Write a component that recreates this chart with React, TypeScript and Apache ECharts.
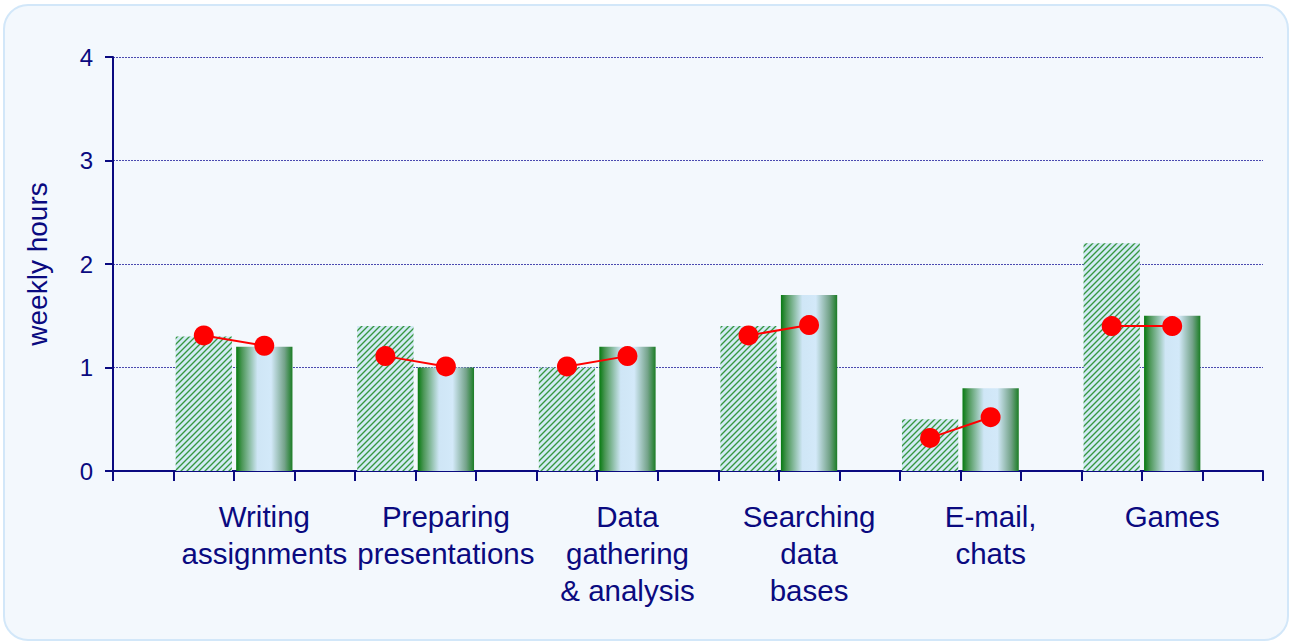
import React, { useEffect, useRef } from "react";
import * as echarts from "echarts";

// Activity categories (one group of two bars + a pair of red markers each)
const categories = [
  "Writing\nassignments",
  "Preparing\npresentations",
  "Data\ngathering\n& analysis",
  "Searching\ndata\nbases",
  "E-mail,\nchats",
  "Games",
];

// Weekly hours, hatched bars (first of each pair)
const hatchedHours = [1.3, 1.4, 1.0, 1.4, 0.5, 2.2];
// Weekly hours, shaded cylinder bars (second of each pair)
const shadedHours = [1.2, 1.0, 1.2, 1.7, 0.8, 1.5];
// Red marker pairs
const markerFirst = [1.31, 1.11, 1.01, 1.31, 0.32, 1.4];
const markerSecond = [1.21, 1.01, 1.11, 1.41, 0.52, 1.4];

const yTicks = [0, 1, 2, 3, 4];

const NAVY = "#0a0a80";
const FONT = "'Liberation Sans', Arial, Helvetica, sans-serif";

// The category axis has 3 slots per group plus a leading empty slot:
// [empty] [bar A] [bar B] [empty] [bar A] [bar B] [empty] ...
const SLOT_COUNT = categories.length * 3 + 1;

function slotted(first: number[], second: number[]): (number | null)[] {
  const out: (number | null)[] = new Array(SLOT_COUNT).fill(null);
  for (let g = 0; g < categories.length; g++) {
    if (first.length) out[g * 3 + 1] = first[g];
    if (second.length) out[g * 3 + 2] = second[g];
  }
  return out;
}

function makeHatchTile(): HTMLCanvasElement {
  const size = 6;
  const c = document.createElement("canvas");
  c.width = size;
  c.height = size;
  const ctx = c.getContext("2d")!;
  const img = ctx.createImageData(size, size);
  for (let y = 0; y < size; y++) {
    for (let x = 0; x < size; x++) {
      const d = (x + y) % size;
      let rgb: number[];
      if (d === 3) rgb = [52, 148, 70];
      else if (d === 2 || d === 4) rgb = [140, 198, 156];
      else rgb = [210, 234, 246];
      const i = (y * size + x) * 4;
      img.data[i] = rgb[0];
      img.data[i + 1] = rgb[1];
      img.data[i + 2] = rgb[2];
      img.data[i + 3] = 255;
    }
  }
  ctx.putImageData(img, 0, 0);
  return c;
}

export default function App() {
  const ref = useRef<HTMLDivElement>(null);

  useEffect(() => {
    if (!ref.current) return;
    const chart = echarts.init(ref.current, null, { renderer: "svg" });

    const slotKeys = Array.from({ length: SLOT_COUNT }, (_, i) => "s" + i);
    const hatch = makeHatchTile();

    const option: any = {
      animation: false,
      graphic: [
        {
          type: "rect",
          z: -100,
          silent: true,
          shape: { x: 4, y: 5, width: 1284, height: 635, r: 24 },
          style: { fill: "#f3f8fd", stroke: "#d2e7f9", lineWidth: 2 },
        },
      ],
      grid: { left: 113, right: 29, top: 57, bottom: 172, containLabel: false },
      xAxis: {
        type: "category",
        data: slotKeys,
        boundaryGap: true,
        axisLine: { lineStyle: { color: NAVY, width: 2 } },
        axisTick: {
          show: true,
          interval: 0,
          length: 10,
          inside: false,
          lineStyle: { color: NAVY, width: 2 },
        },
        axisLabel: {
          interval: 0,
          margin: 27,
          color: NAVY,
          fontFamily: FONT,
          fontSize: 29.5,
          lineHeight: 37,
          align: "center",
          formatter: (_v: string, idx: number) =>
            idx % 3 === 2 ? categories[(idx - 2) / 3] : "",
        },
        splitLine: { show: false },
      },
      yAxis: {
        type: "value",
        min: yTicks[0],
        max: yTicks[yTicks.length - 1],
        interval: 1,
        name: "weekly hours",
        nameLocation: "middle",
        nameRotate: 90,
        nameGap: 62,
        nameTextStyle: { color: NAVY, fontFamily: FONT, fontSize: 28 },
        axisLine: { show: true, lineStyle: { color: NAVY, width: 2 } },
        axisTick: { show: true, length: 8, lineStyle: { color: NAVY, width: 2 } },
        axisLabel: {
          margin: 20,
          color: NAVY,
          fontFamily: FONT,
          fontSize: 24,
        },
        splitLine: {
          show: true,
          lineStyle: { color: "#4a4ab0", width: 1, type: [2, 1] },
        },
      },
      series: [
        {
          type: "bar",
          name: "hatched",
          data: slotted(hatchedHours, []),
          barCategoryGap: "7%",
          barGap: "-100%",
          itemStyle: {
            color: {
              image: hatch,
              repeat: "repeat",
              imageWidth: 6,
              imageHeight: 6,
            },
          },
          z: 2,
        },
        {
          type: "bar",
          name: "shaded",
          data: slotted([], shadedHours),
          barCategoryGap: "7%",
          barGap: "-100%",
          itemStyle: {
            color: {
              type: "linear",
              x: 0,
              y: 0,
              x2: 1,
              y2: 0,
              colorStops: [
                { offset: 0, color: "#067a10" },
                { offset: 0.1, color: "#4a9655" },
                { offset: 0.38, color: "#cfe6f6" },
                { offset: 0.62, color: "#d3e9f9" },
                { offset: 0.86, color: "#74a38a" },
                { offset: 1, color: "#1b7d25" },
              ],
            },
          },
          z: 2,
        },
        {
          type: "line",
          name: "markers",
          data: slotted(markerFirst, markerSecond),
          connectNulls: false,
          symbol: "circle",
          symbolSize: 20,
          lineStyle: { color: "#ff0000", width: 2 },
          itemStyle: { color: "#ff0000" },
          z: 5,
        },
      ],
    };

    chart.setOption(option);
    return () => chart.dispose();
  }, []);

  return (
    <div
      ref={ref}
      style={{
        position: "fixed",
        left: 0,
        top: 0,
        width: 1292,
        height: 643,
        background: "#ffffff",
      }}
    />
  );
}
